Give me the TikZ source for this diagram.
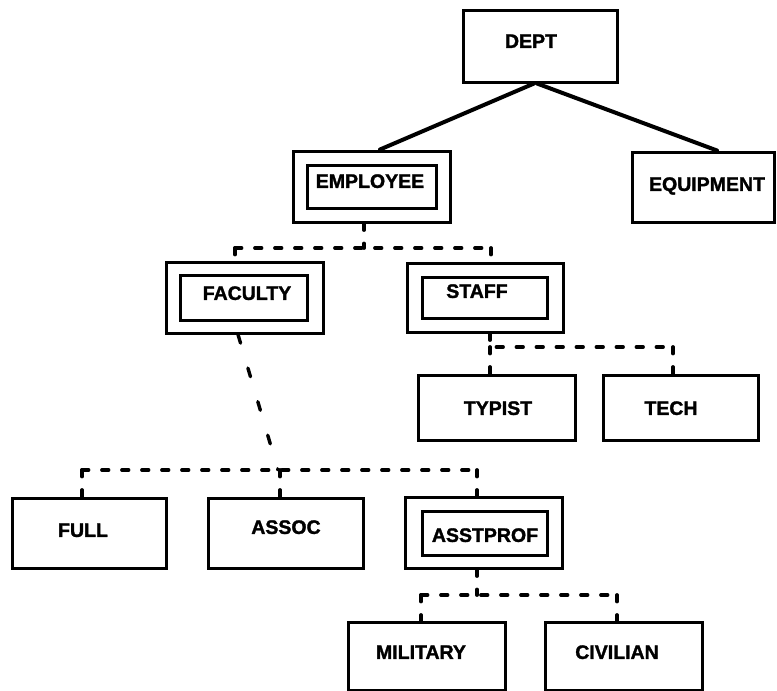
\documentclass[tikz,border=0pt]{standalone}
\usepackage{fontspec}
\setmainfont{Liberation Sans}
\newfontfamily\heavyfont{Liberation Sans}[UprightFont=* Bold, FakeBold=1.6]
\usetikzlibrary{calc}
\tikzset{
  box/.style={draw=black, line width=3pt, rectangle, inner sep=0pt, fill=none},
  lbl/.style={inner sep=0pt, anchor=center, text height=13.8pt, text depth=0pt,
              font=\heavyfont\fontsize{19.5}{20}\selectfont},
  solidln/.style={line width=4pt, line cap=round},
  dashln/.style={line width=3.8pt, line cap=round, dash pattern=on 6.5pt off 13.5pt},
  slantln/.style={line width=3.4pt, line cap=round, dash pattern=on 9pt off 26pt}
}
\begin{document}
\begin{tikzpicture}[x=1pt, y=-1pt]
\useasboundingbox (0,0) rectangle (777,691);
% boxes
\node[box, minimum width=154pt, minimum height=72pt] (dept) at (540,46) {};
\node[box, minimum width=157pt, minimum height=71pt] (empO) at (371.5,186.5) {};
\node[box, minimum width=129pt, minimum height=43pt] (empI) at (371.5,186.5) {};
\node[box, minimum width=142pt, minimum height=70pt] (equip) at (703,187) {};
\node[box, minimum width=157pt, minimum height=71pt] (facO) at (244.5,297.5) {};
\node[box, minimum width=127pt, minimum height=45pt] (facI) at (243.5,297.5) {};
\node[box, minimum width=156pt, minimum height=69pt] (staffO) at (485,297.5) {};
\node[box, minimum width=125pt, minimum height=41pt] (staffI) at (484.5,297.5) {};
\node[box, minimum width=157pt, minimum height=65pt] (typist) at (496.5,407.5) {};
\node[box, minimum width=155pt, minimum height=65pt] (tech) at (680.5,407.5) {};
\node[box, minimum width=154pt, minimum height=70pt] (full) at (89,533) {};
\node[box, minimum width=155pt, minimum height=70pt] (assoc) at (285.5,533) {};
\node[box, minimum width=157pt, minimum height=71pt] (apO) at (483.5,532.5) {};
\node[box, minimum width=125pt, minimum height=44pt] (apI) at (484.5,533) {};
\node[box, minimum width=157pt, minimum height=68pt] (mil) at (426.5,656) {};
\node[box, minimum width=157pt, minimum height=68pt] (civ) at (623.5,656) {};
% labels
\node[lbl] (deptL) at (531,41) {DEPT};
\node[lbl] (empL) at (370,181) {EMPLOYEE};
\node[lbl] (equipL) at (707,184) {EQUIPMENT};
\node[lbl] (facL) at (247,293) {FACULTY};
\node[lbl] (staffL) at (477,291) {STAFF};
\node[lbl] (typistL) at (498,408) {TYPIST};
\node[lbl] (techL) at (671,408) {TECH};
\node[lbl] (fullL) at (83,530) {FULL};
\node[lbl] (assocL) at (286,527) {ASSOC};
\node[lbl] (apL) at (485,535) {ASSTPROF};
\node[lbl] (milL) at (421,652) {MILITARY};
\node[lbl] (civL) at (617,652) {CIVILIAN};
% solid connectors
\draw[solidln] ($(dept.south)+(-6,0)$) -- ($(empO.north)+(8.5,0)$);
\draw[solidln] ($(dept.south)+(-3,0)$) -- ($(equip.north)+(14,0)$);
% employee group
\coordinate (eTap) at (364,248);
\coordinate (eL) at (235,248);
\coordinate (eR) at (491,248);
\draw[dashln] (eTap |- empO.south) -- (eTap);
\draw[dashln] (eL) -- (eR);
\draw[dashln] (eL) -- (eL |- facO.north);
\draw[dashln] (eR) -- (eR |- staffO.north);
% staff group
\coordinate (sL) at (490,347);
\coordinate (sR) at (673,347);
\draw[dashln] (sL |- staffO.south) -- (sL) -- (sR);
\draw[dashln] (sL) -- (sL |- typist.north);
\draw[dashln] (sR) -- (sR |- tech.north);
% faculty group
\coordinate (fTop) at (238,333);
\coordinate (fTap) at (278,470);
\coordinate (fL) at (82,470);
\coordinate (fM) at (280,470);
\coordinate (fR) at (477,470);
\draw[slantln] (fTop |- facO.south) -- (fTap);
\draw[dashln] (fL) -- (fR);
\draw[dashln] (fL) -- (fL |- full.north);
\draw[dashln] (fM) -- (fM |- assoc.north);
\draw[dashln] (fR) -- (fR |- apO.north);
% asstprof group
\coordinate (aTap) at (477,595);
\coordinate (aL) at (421,595);
\coordinate (aR) at (617,595);
\draw[dashln] (aTap |- apO.south) -- (aTap);
\draw[dashln] (aL) -- (aR);
\draw[dashln] (aL) -- (aL |- mil.north);
\draw[dashln] (aR) -- (aR |- civ.north);
\end{tikzpicture}
\end{document}
